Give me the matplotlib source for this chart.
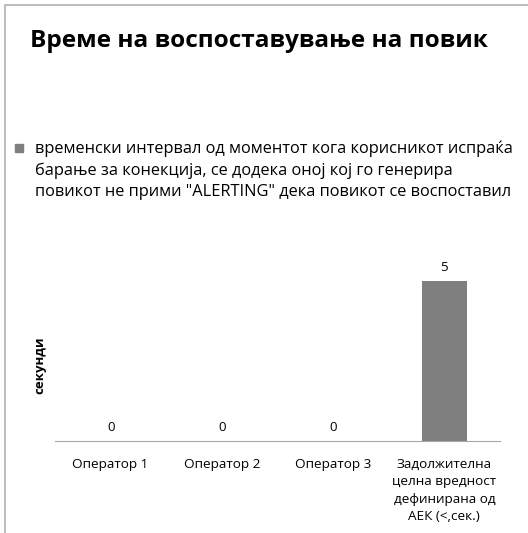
import matplotlib
matplotlib.use("Agg")
import matplotlib.pyplot as plt
from matplotlib.patches import Rectangle

# data
categories = ["Оператор 1", "Оператор 2", "Оператор 3",
              "Задолжителна\nцелна вредност\nдефинирана од\nАЕК (<,сек.)"]
values = [0, 0, 0, 5]
title = "Време на воспоставување на повик"
series_name = ("временски интервал од моментот кога корисникот испраќа\n"
               "барање за конекција, се додека оној кој го генерира\n"
               "повикот не прими \"ALERTING\" дека повикот се воспоставил")
ylabel = "секунди"

W, H = 528, 533
plt.rcParams['font.family'] = ['Open Sans', 'DejaVu Sans']

fig = plt.figure(figsize=(W / 100, H / 100), dpi=100)

def fx(px):
    return px / W

def fy(py):
    return 1 - py / H

# chart frame (only top/left visible)
fig.patches.append(Rectangle((fx(5), fy(600)), fx(600), fy(5) - fy(600),
                             transform=fig.transFigure, fill=False,
                             edgecolor="#b0b0b0", lw=1.2))

ax = fig.add_axes([fx(55), fy(441), fx(500) - fx(55), fy(249) - fy(441)])
x = range(len(categories))
bars = ax.bar(x, values, width=0.4, color="#7f7f7f")
ax.set_xlim(-0.5, len(categories) - 0.5)
ax.set_ylim(0, 6)
for s in ["top", "right", "left"]:
    ax.spines[s].set_visible(False)
ax.spines["bottom"].set_color("#a6a6a6")
ax.set_yticks([])
ax.set_xticks(list(x))
ax.set_xticklabels(categories, fontsize=9.7, linespacing=1.45, va="top")
ax.tick_params(axis="x", length=0, pad=12)
ax.bar_label(bars, labels=[str(v) for v in values], padding=5, fontsize=9.5)

fig.text(fx(40), fy(365), ylabel, rotation=90, fontsize=9.5, fontweight="bold",
         ha="center", va="center")

fig.text(fx(30), fy(41), title, fontsize=17.6, fontweight="bold",
         ha="left", va="center")

# legend
fig.patches.append(Rectangle((fx(15), fy(152)), fx(8), fy(144) - fy(152),
                             transform=fig.transFigure, color="#7f7f7f"))
fig.text(fx(35), fy(140), series_name, fontsize=11.8, ha="left", va="top",
         linespacing=1.47)

fig.savefig("out.png", dpi=100, facecolor="white")
